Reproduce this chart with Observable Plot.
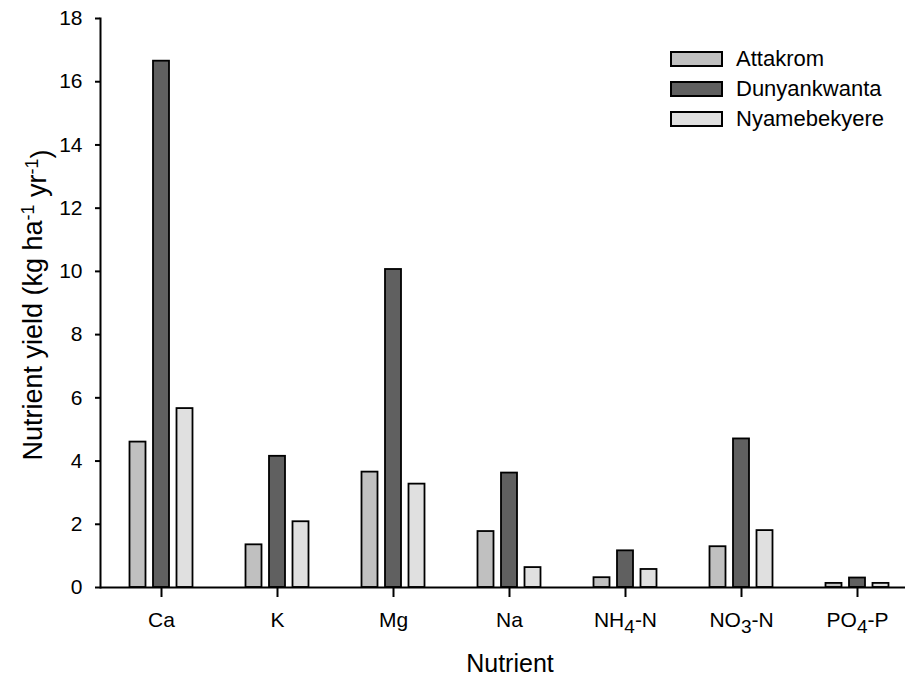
<!DOCTYPE html>
<html>
<head>
<meta charset="utf-8">
<script src="https://cdn.jsdelivr.net/npm/d3@7"></script>
<script src="https://cdn.jsdelivr.net/npm/@observablehq/plot@0.6"></script>
<style>
  html, body { margin: 0; padding: 0; background: #fff; }
  #chart { position: relative; width: 905px; height: 680px; overflow: hidden;
           font-family: "Liberation Sans", Arial, sans-serif; color: #000; }
  .legend-row { position: absolute; left: 670px; display: flex; align-items: center; height: 16px; }
  .legend-box { width: 53px; height: 16px; box-sizing: border-box; border: 2px solid #000; margin-right: 13px; }
  .legend-text { font-size: 22px; line-height: 16px; white-space: nowrap; }
</style>
</head>
<body>
<div id="chart"></div>
<script>
// Nutrient yields (kg ha-1 yr-1) per catchment
const nutrients = ["Ca", "K", "Mg", "Na", "NH4-N", "NO3-N", "PO4-P"];
const sites = ["Attakrom", "Dunyankwanta", "Nyamebekyere"];
const attakrom     = [4.6, 1.35, 3.65, 1.77, 0.31, 1.29, 0.13];
const dunyankwanta = [16.65, 4.15, 10.06, 3.62, 1.16, 4.7, 0.30];
const nyamebekyere = [5.66, 2.08, 3.27, 0.63, 0.57, 1.8, 0.13];
const yTicks = [0, 2, 4, 6, 8, 10, 12, 14, 16, 18];

const fills = ["#c0c0c0", "#606060", "#e0e0e0"];
const offsets = [-23.5, 0, 23.5];
const seriesValues = [attakrom, dunyankwanta, nyamebekyere];

const table = nutrients.flatMap((n, i) =>
  sites.map((s, j) => ({nutrient: n, site: s, value: seriesValues[j][i]})));

const plot = Plot.plot({
  width: 905,
  height: 680,
  marginTop: 18,
  marginBottom: 93,
  marginLeft: 100,
  marginRight: -12,
  style: {fontFamily: "'Liberation Sans', Arial, sans-serif", fontSize: "21px", color: "#000", background: "transparent"},
  x: {domain: nutrients, range: [101, 917], padding: 0},
  y: {domain: [0, 18]},
  color: {domain: sites, range: fills},
  marks: [
    ...sites.map((s, j) => Plot.barY(table, {
      filter: d => d.site === s,
      x: "nutrient", y: "value", fill: "site",
      stroke: "#000", strokeWidth: 1.8,
      insetLeft: 50, insetRight: 50, dx: offsets[j]
    })),
    Plot.ruleY([0], {stroke: "#000", strokeWidth: 2}),
    Plot.axisX({tickSize: 10, tickPadding: 15, strokeWidth: 2, label: null}),
    Plot.axisY({ticks: yTicks, tickSize: 5, tickPadding: 13, strokeWidth: 2, label: null}),
    Plot.frame({anchor: "left", stroke: "#000", strokeWidth: 2})
  ]
});

const chart = document.getElementById("chart");
chart.appendChild(plot);
const svg = d3.select(plot);

// chemical subscripts in the category labels
svg.selectAll('g[aria-label="x-axis tick label"] text').each(function() {
  const t = d3.select(this);
  const m = /^([A-Z]+)(\d)(-.*)$/.exec(t.text());
  if (!m) return;
  t.text("");
  t.append("tspan").text(m[1]);
  t.append("tspan").attr("dy", "0.3em").style("font-size", "19px").text(m[2]);
  t.append("tspan").attr("dy", "-0.3em").text(m[3]);
});

// axis titles
svg.append("text")
  .attr("x", 510).attr("y", 672)
  .attr("text-anchor", "middle")
  .style("font-size", "25px").attr("fill", "#000")
  .text("Nutrient");

const yTitle = svg.append("text")
  .attr("transform", "translate(42,305) rotate(-90)")
  .attr("text-anchor", "middle")
  .style("font-size", "27px").attr("fill", "#000");
yTitle.append("tspan").text("Nutrient yield (kg ha");
yTitle.append("tspan").attr("dy", "-0.45em").style("font-size", "18px").text("-1");
yTitle.append("tspan").attr("dy", "0.45em").text(" yr");
yTitle.append("tspan").attr("dy", "-0.45em").style("font-size", "18px").text("-1");
yTitle.append("tspan").attr("dy", "0.45em").text(")");

// legend
sites.forEach((s, j) => {
  const row = document.createElement("div");
  row.className = "legend-row";
  row.style.top = (51 + 30 * j) + "px";
  const box = document.createElement("div");
  box.className = "legend-box";
  box.style.background = fills[j];
  const label = document.createElement("div");
  label.className = "legend-text";
  label.textContent = s;
  row.appendChild(box);
  row.appendChild(label);
  chart.appendChild(row);
});
</script>
</body>
</html>
